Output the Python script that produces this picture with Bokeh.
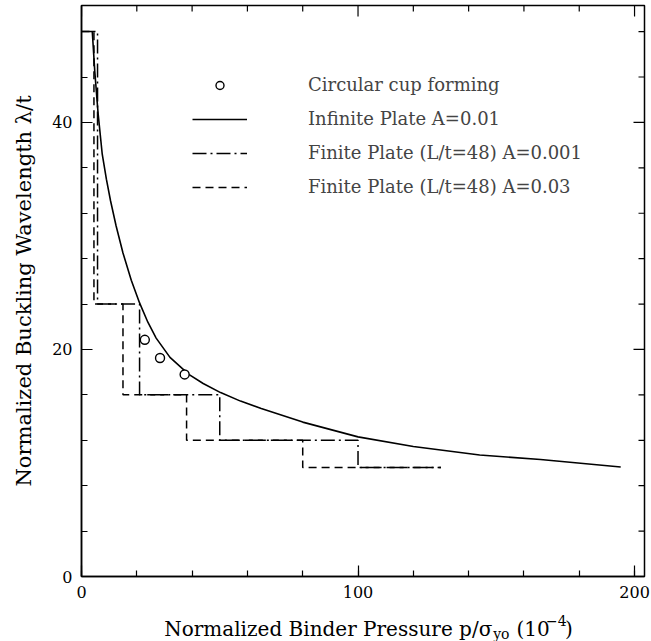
from bokeh.plotting import figure
from bokeh.layouts import column
from bokeh.models import Range1d, FixedTicker, Legend, LegendItem, Label
from bokeh.embed import file_html
from bokeh.resources import INLINE

# ---------------- data ----------------
# circular cup forming experiments
cup_pressure = [22.9, 28.4, 37.3]
cup_wavelength = [20.85, 19.25, 17.8]

# infinite plate, A = 0.01
inf_pressure = [3.9, 4.8, 6.0, 7.5, 9.0, 10.5, 12.5, 15.0, 18.0, 21.0, 24.0, 27.0,
                32.0, 38.8, 44.0, 50.3, 57.5, 65.0, 80.0, 100.0, 120.0, 144.0, 166.0, 195.0]
inf_wavelength = [48.0, 44.5, 40.8, 37.2, 35.0, 33.1, 30.9, 28.5, 26.1, 24.1, 22.4, 21.0,
                  19.3, 17.8, 17.0, 16.2, 15.45, 14.8, 13.6, 12.3, 11.45, 10.7, 10.3, 9.65]

# finite plate (L/t = 48): wavelength levels and the pressures where they start
step_wavelength = [48, 24, 16, 12, 9.6, 9.6]
fin001_pressure = [0, 5.8, 21, 50, 100, 130]   # A = 0.001
fin003_pressure = [0, 4.5, 15, 38, 80, 130]    # A = 0.03

x_major = [0, 100, 200]
x_minor = list(range(0, 201, 20))
y_major = [0, 20, 40]
y_minor = list(range(0, 49, 4))

legend_labels = ["Circular cup forming",
                 "Infinite Plate A=0.01",
                 "Finite Plate (L/t=48) A=0.001",
                 "Finite Plate (L/t=48) A=0.03"]

FONT = "DejaVu Serif"
X_MAX, Y_MAX = 203.6, 50.3
FRAME_W, FRAME_H = 563, 571
TOP_H = 604          # height of the chart part
BOT_H = 641 - TOP_H  # strip holding the x axis title

p = figure(width=651, height=TOP_H, output_backend="svg", toolbar_location=None,
           x_range=Range1d(0, X_MAX), y_range=Range1d(0, Y_MAX),
           min_border_left=81, min_border_right=7, min_border_top=5,
           min_border_bottom=TOP_H - 5 - FRAME_H,
           background_fill_color="white", border_fill_color="white")
p.xgrid.visible = False
p.ygrid.visible = False
p.outline_line_color = "black"
p.outline_line_width = 1.5

MAJ, MIN = 11, 6   # tick lengths in px (pointing inward)


def style_axis(ax, ticker):
    ax.ticker = ticker
    ax.axis_line_width = 1.5
    ax.axis_line_color = "black"
    ax.major_tick_in = MAJ
    ax.major_tick_out = 0
    ax.minor_tick_in = MIN
    ax.minor_tick_out = 0
    ax.major_tick_line_width = 1.2
    ax.minor_tick_line_width = 1.2
    ax.major_label_text_font = FONT
    ax.major_label_text_color = "black"
    ax.major_label_text_font_size = "16px"
    ax.major_label_standoff = 9


style_axis(p.xaxis[0], FixedTicker(ticks=x_major, minor_ticks=x_minor))
style_axis(p.yaxis[0], FixedTicker(ticks=y_major, minor_ticks=y_minor))
p.yaxis[0].axis_label = "Normalized Buckling Wavelength \u03bb/t"
p.yaxis[0].axis_label_text_font = FONT
p.yaxis[0].axis_label_text_font_style = "normal"
p.yaxis[0].axis_label_text_font_size = "21px"
p.yaxis[0].axis_label_standoff = 13
p.yaxis[0].axis_label_text_color = "black"

# mirrored inward ticks on the top and right frame edges
px_per_x = FRAME_W / X_MAX
px_per_y = FRAME_H / Y_MAX
top_x = [v for v in x_minor if v not in x_major] + x_major
top_len = [MIN / px_per_y if v not in x_major else MAJ / px_per_y for v in top_x]
p.segment(x0=top_x, y0=[Y_MAX] * len(top_x), x1=top_x,
          y1=[Y_MAX - l for l in top_len], line_color="black", line_width=1.2)
right_y = [v for v in y_minor if v not in y_major] + y_major
right_len = [MIN / px_per_x if v not in y_major else MAJ / px_per_x for v in right_y]
p.segment(x0=[X_MAX] * len(right_y), y0=right_y, x1=[X_MAX - l for l in right_len],
          y1=right_y, line_color="black", line_width=1.2)

# ---------------- glyphs ----------------
r_inf = p.line(inf_pressure, inf_wavelength, line_color="black", line_width=1.6)
r_f1 = p.step(fin001_pressure, step_wavelength, mode="after",
              line_color="black", line_width=1.5, line_dash="14 4 2 4")
r_f3 = p.step(fin003_pressure, step_wavelength, mode="after",
              line_color="black", line_width=1.5, line_dash="8 5")
r_cup = p.scatter(cup_pressure, cup_wavelength, marker="circle", size=9,
                  fill_color="white", line_color="black", line_width=1.4)

legend = Legend(items=[LegendItem(label=legend_labels[0], renderers=[r_cup]),
                       LegendItem(label=legend_labels[1], renderers=[r_inf]),
                       LegendItem(label=legend_labels[2], renderers=[r_f1]),
                       LegendItem(label=legend_labels[3], renderers=[r_f3])],
                location=(111, 379), padding=0, margin=0,
                glyph_width=55, glyph_height=20, label_height=20, label_standoff=61,
                spacing=13, label_text_font=FONT, label_text_font_size="18px",
                border_line_color=None, background_fill_alpha=0)
p.add_layout(legend, "center")

# ---------------- x axis title strip (pixel coordinates of the strip) ----------------
t = figure(width=651, height=BOT_H, output_backend="svg", toolbar_location=None,
           x_range=Range1d(0, 651), y_range=Range1d(0, BOT_H), min_border=0,
           background_fill_color="white", border_fill_color="white")
t.axis.visible = False
t.grid.visible = False
t.outline_line_color = None

base = BOT_H - 24   # baseline, measured up from the strip bottom
parts = [
    ("Normalized Binder Pressure p/\u03c3", 475, base, "20px", "right"),
    ("yo", 476, base - 5, "14px", "left"),
    ("(10", 503, base, "20px", "left"),
    ("\u22124", 537, base + 8, "14px", "left"),
    (")", 559, base, "20px", "left"),
]
for txt, xx, yy, fs, al in parts:
    t.add_layout(Label(x=xx, y=yy, text=txt, text_font=FONT, text_font_size=fs,
                       text_color="black", text_baseline="alphabetic", text_align=al))

open("out.html", "w").write(file_html(column(p, t, spacing=0), INLINE))
